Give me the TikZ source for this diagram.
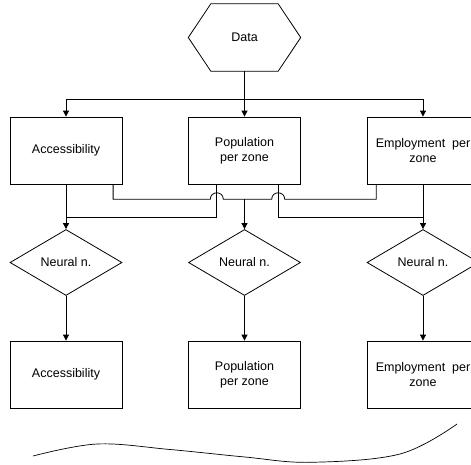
\documentclass[tikz,border=0pt]{standalone}
\usepackage{fontspec}
\setmainfont{Liberation Sans}
\usetikzlibrary{shapes.geometric,arrows.meta,calc}
\begin{document}
\begin{tikzpicture}[x=1pt,y=-1pt,
  every node/.style={font=\fontsize{12.5}{15}\selectfont},
  conn/.style={line width=0.8pt, draw=black},
  arr/.style={conn,-{Triangle[width=6pt,length=6pt]}},
  boxnode/.style={draw,line width=0.8pt,minimum width=112pt,minimum height=67pt,inner sep=0pt,align=center},
  dia/.style={draw,diamond,line width=0.8pt,minimum width=112pt,minimum height=66pt,inner sep=0pt,aspect=1.7}]
\useasboundingbox (0,0) rectangle (471,464);
\clip (0,0) rectangle (471,464);
% Data hexagon
\node[minimum width=112pt,minimum height=67pt,inner sep=0pt] (data) at (244.5,37.5) {Data};
\draw[line width=0.8pt] (data.west) -- ($(data.north west)+(22.5,0)$) -- ($(data.north east)+(-22.5,0)$) -- (data.east) -- ($(data.south east)+(-22.5,0)$) -- ($(data.south west)+(22.5,0)$) -- cycle;
% first row boxes
\node[boxnode] (b1) at (66,150.5) {Accessibility};
\node[boxnode] (b2) at (244.5,150.5) {Population\\per zone};
\node[boxnode] (b3) at (423,150.5) {Employment\ \ per\\zone};
% diamonds
\node[dia] (d1) at (66,262.5) {Neural n.};
\node[dia] (d2) at (244.5,262.5) {Neural n.};
\node[dia] (d3) at (423,262.5) {Neural n.};
% result boxes
\node[boxnode] (e1) at (66,374.5) {Accessibility};
\node[boxnode] (e2) at (244.5,374.5) {Population\\per zone};
\node[boxnode] (e3) at (423,374.5) {Employment\ \ per\\zone};
% distribution bus
\coordinate (bus) at (0,99);
\draw[conn] (data.south) -- (data.south |- bus);
\draw[conn] (b1.north |- bus) -- (b3.north |- bus);
\draw[arr] (b1.north |- bus) -- (b1.north);
\draw[arr] (data.south |- bus) -- (b2.north);
\draw[arr] (b3.north |- bus) -- (b3.north);
% cross connections
\coordinate (r1) at (0,199.3);
\coordinate (r2) at (0,217.3);
\coordinate (p1) at ($(b1.south east)+(-9.3,0)$);
\coordinate (q1) at ($(b2.south west)+(28.7,0)$);
\coordinate (q2) at ($(b2.south east)+(-22.7,0)$);
\coordinate (p3) at ($(b3.south west)+(9.7,0)$);
\draw[conn] (p1) -- (p1 |- r1)
  -- ($(q1 |- r1)+(-6.5,0)$) .. controls +(0,-8.67) and +(0,-8.67) .. ($(q1 |- r1)+(6.5,0)$)
  -- ($(q2 |- r1)+(-6.5,0)$) .. controls +(0,-8.67) and +(0,-8.67) .. ($(q2 |- r1)+(6.5,0)$)
  -- (p3 |- r1) -- (p3);
\draw[arr] (b2.south |- r1) -- (d2.north);
\draw[conn] (q1) -- (q1 |- r2) -- (b1.south |- r2);
\draw[conn] (q2) -- (q2 |- r2) -- (b3.south |- r2);
\draw[arr] (b1.south) -- (d1.north);
\draw[arr] (b3.south) -- (d3.north);
% to results
\draw[arr] (d1.south) -- (e1.north);
\draw[arr] (d2.south) -- (e2.north);
\draw[arr] (d3.south) -- (e3.north);
% wavy line
\draw[line width=0.7pt] plot[smooth, tension=0.6] coordinates {(33,456) (97,444) (170,449.5) (245,457) (310,462.3) (400,454) (457,424)};
\end{tikzpicture}
\end{document}
